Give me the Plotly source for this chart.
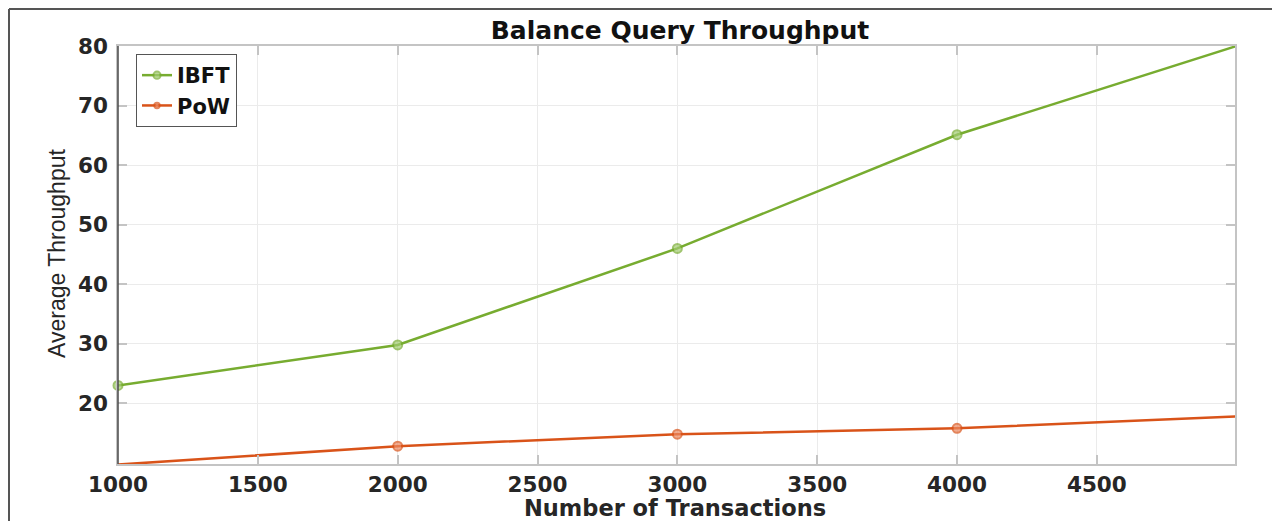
import plotly.graph_objects as go

# ---- data ----
transactions = [1000, 2000, 3000, 4000, 5000]
ibft_throughput = [23, 29.8, 46, 65.1, 80]
pow_throughput = [9.7, 12.8, 14.8, 15.8, 17.8]
x_ticks = [1000, 1500, 2000, 2500, 3000, 3500, 4000, 4500]
y_ticks = [20, 30, 40, 50, 60, 70, 80]

X_RANGE = [1000, 4994]
Y_RANGE = [9.8, 80]

# page body has an 8px margin, so the figure is sized to fit the window
OFF = 8
W, H = 1280 - OFF, 521 - OFF
L, T = 118 - OFF, 46 - OFF
R, B = W - (1235 - OFF), H - (464 - OFF)
PW, PH = W - L - R, H - T - B


def px(xp):
    """page pixel x -> paper x"""
    return (xp - OFF - L) / PW


def py(yp):
    """page pixel y -> paper y"""
    return (H - B - (yp - OFF)) / PH


def msizes(xs, ys, s):
    return [s if (X_RANGE[0] <= x <= X_RANGE[1] and Y_RANGE[0] <= y <= Y_RANGE[1]) else 0
            for x, y in zip(xs, ys)]


GREEN = "#77AC30"
ORANGE = "#D95319"
FONT = "DejaVu Sans"

fig = go.Figure()
fig.add_trace(go.Scatter(
    x=transactions, y=ibft_throughput, name="IBFT", mode="lines+markers",
    line=dict(color=GREEN, width=2.5),
    marker=dict(symbol="circle", size=msizes(transactions, ibft_throughput, 9),
                color="#a3cc73", line=dict(color=GREEN, width=2)),
    cliponaxis=False,
))
fig.add_trace(go.Scatter(
    x=transactions, y=pow_throughput, name="PoW", mode="lines+markers",
    line=dict(color=ORANGE, width=2.5),
    marker=dict(symbol="circle", size=msizes(transactions, pow_throughput, 9),
                color="#ec8a62", line=dict(color=ORANGE, width=2)),
    cliponaxis=False,
))

axis_common = dict(
    showgrid=True, gridcolor="#ebebeb", gridwidth=1,
    showline=True, linecolor="#c4c4c4", linewidth=1.5, mirror="ticks",
    ticks="inside", ticklen=9, tickcolor="#c4c4c4", tickwidth=1.5,
    zeroline=False, automargin=False,
    tickfont=dict(family=FONT, size=21.5, color="#262626", weight="bold"),
)

fig.update_layout(
    width=W, height=H,
    margin=dict(l=L, r=R, t=T, b=B, autoexpand=False),
    paper_bgcolor="white", plot_bgcolor="white",
    showlegend=True,
    title=dict(text="<b>Balance Query Throughput</b>", x=px(680), xref="paper",
               y=1 - (30 - OFF) / H, yref="container", xanchor="center", yanchor="middle",
               font=dict(family=FONT, size=25, color="#111111")),
    legend=dict(x=px(136), y=py(54), xanchor="left", yanchor="top",
                bgcolor="white", bordercolor="#555555", borderwidth=1,
                font=dict(family=FONT, size=21, color="#111111", weight="bold"),
                itemwidth=30, tracegroupgap=0),
    xaxis=dict(range=X_RANGE, tickvals=x_ticks, ticklabelstandoff=0, **axis_common),
    yaxis=dict(range=Y_RANGE, tickvals=y_ticks, ticklabelstandoff=4, **axis_common),
    annotations=[
        dict(text="<b>Number of Transactions</b>", xref="paper", yref="paper",
             x=px(675), y=py(508.5), xanchor="center", yanchor="middle", showarrow=False,
             font=dict(family=FONT, size=22.5, color="#262626")),
        dict(text="Average Throughput", xref="paper", yref="paper",
             x=px(57), y=py(254), xanchor="center", yanchor="middle", showarrow=False,
             textangle=-90,
             font=dict(family="Liberation Sans", size=23, color="#262626")),
    ],
    shapes=[
        # figure frame (top and left)
        dict(type="line", xref="paper", yref="paper", x0=px(OFF + 1), x1=px(1280), y0=py(OFF + 1), y1=py(OFF + 1),
             line=dict(color="#555555", width=2)),
        dict(type="line", xref="paper", yref="paper", x0=px(OFF + 1), x1=px(OFF + 1), y0=py(OFF + 1), y1=py(521),
             line=dict(color="#555555", width=2)),
        # darker left axis line
        dict(type="line", xref="paper", yref="paper", x0=0, x1=0, y0=0, y1=1,
             line=dict(color="#4a4a4a", width=1.5)),
    ],
)

fig.write_html("out.html")
